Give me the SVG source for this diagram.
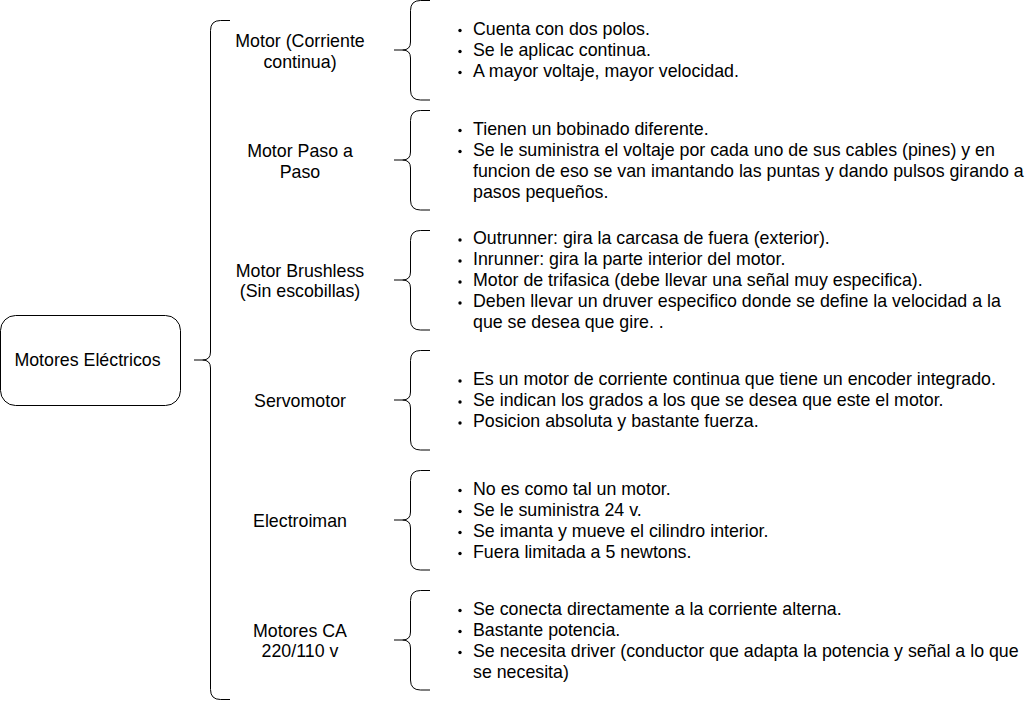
<svg xmlns="http://www.w3.org/2000/svg" width="1032" height="701" viewBox="0 0 1032 701">
<style>
.br{fill:none;stroke:#000;stroke-width:1}
.lbl{font-family:"Liberation Sans",Arial,sans-serif;font-size:17.8px;fill:#000;text-anchor:middle}
.bt{font-family:"Liberation Sans",Arial,sans-serif;font-size:17.8px;fill:#000}
.dot{fill:#000}
</style>
<rect width="1032" height="701" fill="#fff"/>
<g id="connectors">
<path class="br" d="M230,20.5 H220.5 Q210.5,20.5 210.5,30.5 V352 Q210.5,360 202.5,360 H194 M202.5,360 Q210.5,360 210.5,368 V689.5 Q210.5,699.5 220.5,699.5 H230"/>
<path class="br" d="M430,0.5 H420.5 Q410.5,0.5 410.5,10.5 V42 Q410.5,50 402.5,50 H394 M402.5,50 Q410.5,50 410.5,58 V90 Q410.5,100 420.5,100 H430"/>
<path class="br" d="M430,110.5 H420.5 Q410.5,110.5 410.5,120.5 V152 Q410.5,160 402.5,160 H394 M402.5,160 Q410.5,160 410.5,168 V200 Q410.5,210 420.5,210 H430"/>
<path class="br" d="M430,230.5 H420.5 Q410.5,230.5 410.5,240.5 V272 Q410.5,280 402.5,280 H394 M402.5,280 Q410.5,280 410.5,288 V320 Q410.5,330 420.5,330 H430"/>
<path class="br" d="M430,350.5 H420.5 Q410.5,350.5 410.5,360.5 V392 Q410.5,400 402.5,400 H394 M402.5,400 Q410.5,400 410.5,408 V440 Q410.5,450 420.5,450 H430"/>
<path class="br" d="M430,470.5 H420.5 Q410.5,470.5 410.5,480.5 V512 Q410.5,520 402.5,520 H394 M402.5,520 Q410.5,520 410.5,528 V560 Q410.5,570 420.5,570 H430"/>
<path class="br" d="M430,590.5 H420.5 Q410.5,590.5 410.5,600.5 V632 Q410.5,640 402.5,640 H394 M402.5,640 Q410.5,640 410.5,648 V680 Q410.5,690 420.5,690 H430"/>
</g>
<g id="root">
<rect x="0.5" y="315.5" width="180" height="90" rx="15" ry="15" fill="#fff" stroke="#000" stroke-width="1"/>
<text class="lbl" x="87.5" y="366">Motores Eléctricos</text>
</g>
<g id="lbl-cc">
<text class="lbl" x="300" y="47">Motor (Corriente</text>
<text class="lbl" x="300" y="67.5">continua)</text>
</g>
<g id="lbl-paso">
<text class="lbl" x="300" y="157">Motor Paso a</text>
<text class="lbl" x="300" y="177.5">Paso</text>
</g>
<g id="lbl-brushless">
<text class="lbl" x="300" y="276.5">Motor Brushless</text>
<text class="lbl" x="300" y="297">(Sin escobillas)</text>
</g>
<g id="lbl-servo">
<text class="lbl" x="300" y="407">Servomotor</text>
</g>
<g id="lbl-electro">
<text class="lbl" x="300" y="526.5">Electroiman</text>
</g>
<g id="lbl-ca">
<text class="lbl" x="300" y="636.5">Motores CA</text>
<text class="lbl" x="300" y="657">220/110 v</text>
</g>
<g id="desc-cc">
<circle class="dot" cx="460" cy="30.5" r="1.7"/><text class="bt" x="473" y="34.5">Cuenta con dos polos.</text>
<circle class="dot" cx="460" cy="51.5" r="1.7"/><text class="bt" x="473" y="55.5">Se le aplicac continua.</text>
<circle class="dot" cx="460" cy="72.5" r="1.7"/><text class="bt" x="473" y="76.5">A mayor voltaje, mayor velocidad.</text>
</g>
<g id="desc-paso">
<circle class="dot" cx="460" cy="130.5" r="1.7"/><text class="bt" x="473" y="134.5">Tienen un bobinado diferente.</text>
<circle class="dot" cx="460" cy="151.5" r="1.7"/><text class="bt" x="473" y="155.5">Se le suministra el voltaje por cada uno de sus cables (pines) y en</text>
<text class="bt" x="473" y="176.5">funcion de eso se van imantando las puntas y dando pulsos girando a</text>
<text class="bt" x="473" y="197.5">pasos pequeños.</text>
</g>
<g id="desc-brushless">
<circle class="dot" cx="460" cy="240" r="1.7"/><text class="bt" x="473" y="244">Outrunner: gira la carcasa de fuera (exterior).</text>
<circle class="dot" cx="460" cy="261" r="1.7"/><text class="bt" x="473" y="265">Inrunner: gira la parte interior del motor.</text>
<circle class="dot" cx="460" cy="282" r="1.7"/><text class="bt" x="473" y="286">Motor de trifasica (debe llevar una señal muy especifica).</text>
<circle class="dot" cx="460" cy="303" r="1.7"/><text class="bt" x="473" y="307">Deben llevar un druver especifico donde se define la velocidad a la</text>
<text class="bt" x="473" y="328">que se desea que gire. .</text>
</g>
<g id="desc-servo">
<circle class="dot" cx="460" cy="381" r="1.7"/><text class="bt" x="473" y="385">Es un motor de corriente continua que tiene un encoder integrado.</text>
<circle class="dot" cx="460" cy="402" r="1.7"/><text class="bt" x="473" y="406">Se indican los grados a los que se desea que este el motor.</text>
<circle class="dot" cx="460" cy="423" r="1.7"/><text class="bt" x="473" y="427">Posicion absoluta y bastante fuerza.</text>
</g>
<g id="desc-electro">
<circle class="dot" cx="460" cy="490.5" r="1.7"/><text class="bt" x="473" y="494.5">No es como tal un motor.</text>
<circle class="dot" cx="460" cy="511.5" r="1.7"/><text class="bt" x="473" y="515.5">Se le suministra 24 v.</text>
<circle class="dot" cx="460" cy="532.5" r="1.7"/><text class="bt" x="473" y="536.5">Se imanta y mueve el cilindro interior.</text>
<circle class="dot" cx="460" cy="553.5" r="1.7"/><text class="bt" x="473" y="557.5">Fuera limitada a 5 newtons.</text>
</g>
<g id="desc-ca">
<circle class="dot" cx="460" cy="610.5" r="1.7"/><text class="bt" x="473" y="614.5">Se conecta directamente a la corriente alterna.</text>
<circle class="dot" cx="460" cy="631.5" r="1.7"/><text class="bt" x="473" y="635.5">Bastante potencia.</text>
<circle class="dot" cx="460" cy="652.5" r="1.7"/><text class="bt" x="473" y="656.5">Se necesita driver (conductor que adapta la potencia y señal a lo que</text>
<text class="bt" x="473" y="677.5">se necesita)</text>
</g>
</svg>
